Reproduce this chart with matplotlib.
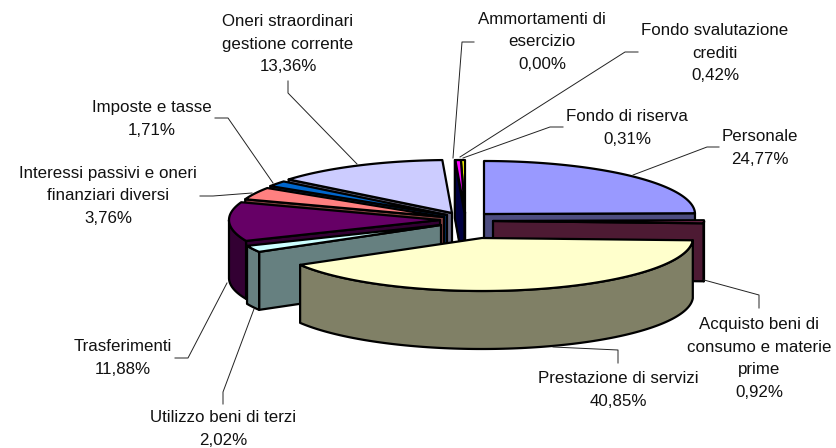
import matplotlib
matplotlib.use('Agg')
import matplotlib.pyplot as plt
import numpy as np

labels = ['Personale', 'Acquisto beni di\nconsumo e materie\nprime', 'Prestazione di servizi',
          'Utilizzo beni di terzi', 'Trasferimenti', 'Interessi passivi e oneri\nfinanziari diversi',
          'Imposte e tasse', 'Oneri straordinari\ngestione corrente', 'Ammortamenti di\nesercizio',
          'Fondo svalutazione\ncrediti', 'Fondo di riserva']
values = [24.77, 0.92, 40.85, 2.02, 11.88, 3.76, 1.71, 13.36, 0.00, 0.42, 0.31]
colors = ['#9999FF', '#993366', '#FFFFCC', '#CCFFFF', '#660066', '#FF8080',
          '#0066CC', '#CCCCFF', '#000080', '#FF00FF', '#FFFF00']

# where each exploded slice ends up on the canvas
apex_x = [484, 493, 482, 441, 440, 444, 447, 452, 464.5, 465, 465]
apex_y = [214, 221, 238, 225, 220, 217, 215, 213, 213, 213, 213]
RX, RY, DEPTH = 211, 53, 58

label_x = [760, 759, 618, 223, 123, 108, 152, 288, 542, 715, 627]
label_y = [148, 358.5, 390, 429, 358, 196, 119, 44, 42, 53, 128]
leaders = [[(719, 147), (707, 147), (633, 175)],
           [(704, 280), (759, 295), (759, 308)],
           [(553, 347), (618, 350), (618, 363)],
           [(254, 309), (223, 392), (223, 404)],
           [(227, 283), (188, 358), (175, 358)],
           [(200, 196), (213, 196), (252, 193)],
           [(215, 118), (228, 118), (273, 183)],
           [(288, 81), (288, 93), (357, 164)],
           [(474, 42), (462, 42), (453, 158)],
           [(638, 52), (625, 52), (460, 157)],
           [(563, 127), (550, 127), (463, 158)]]

plt.rcParams['font.family'] = ['Liberation Sans', 'DejaVu Sans']

cum = np.cumsum([0] + values) * 3.6


def shade(color):
    r, g, b = matplotlib.colors.to_rgb(color)
    return (r * 0.5, g * 0.5, b * 0.5)


def point(i, theta):
    t = np.radians(theta)
    return apex_x[i] + RX * np.sin(t), apex_y[i] - RY * np.cos(t)


def poly(ax, pts, color):
    ax.fill([p[0] for p in pts], [p[1] for p in pts], facecolor=color, edgecolor='black',
            linewidth=1.6, joinstyle='round')


def draw_slice(ax, i, faces=True, top=True):
    a, b = cum[i], cum[i + 1]
    apex = (apex_x[i], apex_y[i])
    side = shade(colors[i])
    low = lambda p: (p[0], p[1] + DEPTH)
    if faces:
        if np.sin(np.radians(a)) < 0:
            p = point(i, a)
            poly(ax, [apex, p, low(p), low(apex)], side)
        if np.sin(np.radians(b)) > 0:
            p = point(i, b)
            poly(ax, [apex, p, low(p), low(apex)], side)
        s, e = max(a, 90), min(b, 270)
        if e > s:
            arc = [point(i, t) for t in np.linspace(s, e, 120)]
            poly(ax, arc + [low(p) for p in arc[::-1]], side)
    if top:
        arc = [point(i, t) for t in np.linspace(a, b, 120)]
        poly(ax, [apex] + arc, colors[i])


fig = plt.figure(figsize=(8.36, 4.48), dpi=100)
ax = fig.add_axes([0, 0, 1, 1])
ax.set_xlim(0, 836)
ax.set_ylim(448, 0)
ax.axis('off')

for line in leaders:
    ax.plot([p[0] for p in line], [p[1] for p in line], color='#222222', linewidth=0.7)

# back to front
draw_slice(ax, 0)
draw_slice(ax, 7)
draw_slice(ax, 10)
draw_slice(ax, 9, top=False)
draw_slice(ax, 8, top=False)
draw_slice(ax, 9, faces=False)
for i in [6, 5, 4, 3, 1, 2]:
    draw_slice(ax, i)

for name, v, x, y in zip(labels, values, label_x, label_y):
    ax.text(x, y, name + '\n' + f'{v:.2f}'.replace('.', ',') + '%', ha='center', va='center',
            fontsize=12.2, color='#111111', linespacing=1.62)

fig.savefig('out.png', dpi=100)
